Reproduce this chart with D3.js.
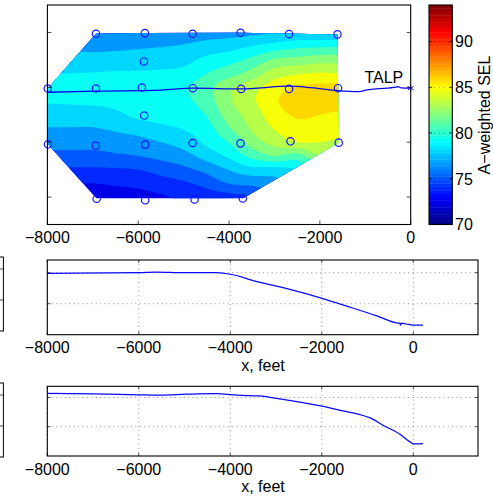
<!DOCTYPE html>
<html><head><meta charset="utf-8">
<script src="https://cdnjs.cloudflare.com/ajax/libs/d3/7.8.5/d3.min.js"></script>
<style>html,body{margin:0;padding:0;background:#fff}svg{display:block}text{font-family:"Liberation Sans",Arial,sans-serif;fill:#000}</style>
</head><body><svg id="c" width="493" height="497"></svg>
<script>
// ---- data ----
const xTicks=[-8000,-6000,-4000,-2000,0];
const mainYTicks=[1000,0,-1000,-2000];
const selTicks=[70,75,80,85,90];
const contourLevels=[72.5,73.86,75.22,76.58,77.94,79.3,80.66,82.02,83.38,84.74,86.1];
const gridX=[-8000,-7500,-7000,-6500,-6000,-5500,-5000,-4500,-4000,-3500,-3000,-2500,-2000,-1500];
const gridY=[1000,750,500,250,0,-250,-500,-750,-1000,-1250,-1500,-1750,-2000];
// position of the field between contour levels (level index), one list per gridX column
const levelCol0=[3.2,3.8,4.4,5,5.5,5.1,4.5,3.95,3.35,2.7,1.85,1,.3];
const levelCol1=[3.2,3.8,4.4,5,5.55,5.15,4.5,3.95,3.35,2.7,1.85,1,.3];
const levelCol2=[3.2,3.7,4.4,5.05,5.6,5.2,4.55,3.95,3.35,2.7,1.85,1,.3];
const levelCol3=[3.1,3.75,4.45,5.1,5.5,5.25,4.8,4.15,3.5,2.85,1.9,1.15,.4];
const levelCol4=[3.1,3.85,4.5,5.1,5.4,5.4,5.2,4.45,3.65,3,2,1.3,.6];
const levelCol5=[3.2,3.95,4.6,5.15,5.5,5.45,5.3,4.8,4,3.3,2.35,1.6,.9];
const levelCol6=[3.4,4.1,4.7,5.3,5.85,5.75,5.4,5.05,4.4,3.65,2.75,1.85,1.15];
const levelCol7=[3.6,4.4,5.25,6,6.65,6.5,6.05,5.6,5.2,4.4,3.3,2.35,1.5];
const levelCol8=[3.7,4.6,5.65,6.6,7.8,7.85,7.45,6.9,6.05,5.2,4.05,3.05,1.7];
const levelCol9=[3.8,5,6.25,7.4,8.6,8.8,8.45,8.1,7.45,6.3,4.65,3.25,2];
const levelCol10=[4.0,5.4,7.1,8.5,9.5,9.85,9.5,9.05,8.35,7,4.6,3.6,2.5];
const levelCol11=[4.2,5.75,7.35,8.9,10.1,10.55,10.15,9.6,9,6.6,5,4,3];
const levelCol12=[4.2,5.85,7.6,9.1,10.25,10.4,10,9.55,9,8,6,4.5,3];
const levelCol13=[4.1,5.9,7.6,9,10.25,10.3,9.85,9.35,8.8,8,6,4.5,3];
const levelColumns=[levelCol0,levelCol1,levelCol2,levelCol3,levelCol4,levelCol5,levelCol6,levelCol7,levelCol8,levelCol9,levelCol10,levelCol11,levelCol12,levelCol13];
const microphoneX=[-6931,-5853,-4803,-3747,-2678,-1613,-5875,-7993,-6931,-5919,-4797,-3734,-2678,-1600,-5868,-7987,-6937,-5846,-4803,-3747,-2647,-1585,-6915,-5846,-4759,-3697];
const microphoneY=[975,988,975,993,970,964,471,-22,-22,-4,-16,-29,-29,-16,-515,-1039,-1063,-1044,-1015,-1021,-984,-1008,-2030,-2056,-2043,-2025];
const trackX=[-7993,-6931,-5500,-4797,-3734,-2678,-2200,-1600,-1130,-990,-770,-320,-280,-210,0];
const trackY=[-90,-70,-50,-16,-29,20,-5,-60,-77,-53,-30,2,14,-12,-16];
const altX=[-7991,-6002,-5609,-5027,-4297,-4006,-3722,-3569,-2994,-1995,-1536,-808,-334,-290,-283,-253,-152,9,213];
const altY=[396,400,404,400,400,390,370,355,314,235,192,123,75,74,61,75,69,61,61];
const speedX=[-7991,-6994,-6002,-5536,-4953,-4297,-3934,-3569,-3357,-2994,-1995,-1536,-1136,-952,-662,-297,-78,9,140,213];
const speedY=[214,212,209,208,211,213,209,206,205,197,170,154,140,131,105,75,49,41,41,43];
const panel1YTicks=[200,400];
const panel2YTicks=[100,200];

const svg=d3.select("#c");
const blue="#1414ff";
const fmt=d=>String(d).replace("-","\u2212");
// MATLAB 'jet' with 64 discrete entries
function jet(t){
  const i=Math.min(63,Math.max(0,Math.floor(t*64)));
  const v=(i+0.5)/64*4;
  const c=x=>Math.round(255*Math.max(0,Math.min(1,Math.min(x+0.5,-x+2.5))));
  return `rgb(${c(v-2)},${c(v-1)},${c(v)})`;
}
const selScale=d3.scaleLinear().domain([70,94]).range([0,1]);

// ---- main contour panel ----
const mL=47.4,mR=410.7,mT=5,mB=224.5;
const x=d3.scaleLinear().domain([-8000,0]).range([mL,mR]);
const y=d3.scaleLinear().domain([-2500,1500]).range([mB,mT]);

const ups=6, nc=gridX.length, nr=gridY.length;
const cr=(a,b,c,d,t)=>0.5*(2*b+(c-a)*t+(2*a-5*b+4*c-d)*t*t+(-a+3*b-3*c+d)*t*t*t);
const at=(i,j)=>levelColumns[Math.max(0,Math.min(nc-1,i))][Math.max(0,Math.min(nr-1,j))];
const W=(nc-1)*ups+1,H=(nr-1)*ups+1,fine=new Array(W*H);
for(let jj=0;jj<H;jj++)for(let ii=0;ii<W;ii++){
  const i=Math.floor(ii/ups),j=Math.floor(jj/ups),tx=ii/ups-i,ty=jj/ups-j;
  const row=k=>cr(at(i-1,j+k),at(i,j+k),at(i+1,j+k),at(i+2,j+k),tx);
  fine[jj*W+ii]=cr(row(-1),row(0),row(1),row(2),ty);
}
const gx=d3.scaleLinear().domain([0,W-1]).range([gridX[0],gridX[nc-1]]);
const gy=d3.scaleLinear().domain([0,H-1]).range([gridY[0],gridY[nr-1]]);
const proj=d3.geoTransform({point(a,b){this.stream.point(x(gx(a-0.5)),y(gy(b-0.5)));}});
const path=d3.geoPath(proj);
const hull=d3.polygonHull(microphoneX.map((d,i)=>[x(d),y(microphoneY[i])]));
svg.append("clipPath").attr("id","hull").append("path").attr("d","M"+hull.join("L")+"Z");
const cs=d3.contours().size([W,H]).smooth(true).thresholds(contourLevels.map((_,i)=>i))(fine.map(v=>Math.max(0,v)));
svg.append("g").attr("clip-path","url(#hull)").selectAll("path").data(cs).join("path")
  .attr("d",path).attr("fill",(d,i)=>jet(selScale(contourLevels[i]))).attr("stroke","none");

// flight track and microphones
svg.append("path").attr("d",d3.line().x(d=>x(d[0])).y(d=>y(d[1])).curve(d3.curveMonotoneX)(trackX.map((d,i)=>[d,trackY[i]])))
  .attr("fill","none").attr("stroke","#0808e8").attr("stroke-width",1.3);
svg.append("g").selectAll("circle").data(microphoneX).join("circle")
  .attr("cx",d=>x(d)).attr("cy",(d,i)=>y(microphoneY[i])).attr("r",3.7)
  .attr("fill","none").attr("stroke",blue).attr("stroke-width",1.2);
svg.append("path").attr("transform",`translate(${x(0)},${y(trackY[trackY.length-1])})`)
  .attr("d",d3.symbol(d3.symbolAsterisk,30)()).attr("fill","none").attr("stroke",blue).attr("stroke-width",1);
svg.append("text").attr("x",x(-1020)).attr("y",y(75)).attr("font-size",16).text("TALP");

function frame(l,t,r,b,col){
  svg.append("rect").attr("x",l).attr("y",t).attr("width",r-l).attr("height",b-t)
   .attr("fill","none").attr("stroke",col||"#000").attr("stroke-width",1.1);
}
frame(mL,mT,mR,mB);
const tick=(x1,y1,x2,y2)=>svg.append("line").attr("x1",x1).attr("y1",y1).attr("x2",x2).attr("y2",y2).attr("stroke","#000").attr("stroke-width",.7);
xTicks.forEach(d=>{tick(x(d),mB,x(d),mB-4);
  svg.append("text").attr("x",x(d)).attr("y",243).attr("text-anchor","middle").attr("font-size",16).text(fmt(d));});
mainYTicks.forEach(d=>{tick(mL,y(d),mL+4,y(d));tick(mR,y(d),mR-4,y(d));});

// ---- colour bar ----
const cL=429,cR=452.3,cY=d3.scaleLinear().domain([70,94]).range([mB,mT]);
const idx=d3.range(64);
svg.append("g").selectAll("rect").data(idx).join("rect")
  .attr("x",cL).attr("width",cR-cL)
  .attr("y",d=>cY(70+(d+1)*24/64)).attr("height",(mB-mT)/64+.4)
  .attr("fill",d=>jet((d+0.5)/64));
frame(cL,mT,cR,mB);
selTicks.forEach(d=>{
  svg.append("line").attr("x1",cL).attr("x2",cR).attr("y1",cY(d)).attr("y2",cY(d)).attr("stroke","#000").attr("stroke-width",.6).attr("stroke-dasharray","1 4").attr("opacity",.6);
  tick(cL,cY(d),cL+3,cY(d));tick(cR,cY(d),cR-3,cY(d));
  svg.append("text").attr("x",455).attr("y",cY(d)+5.8).attr("font-size",16).text(d);
});
svg.append("text").attr("transform","translate(490,115) rotate(-90)").attr("text-anchor","middle").attr("font-size",16).text("A\u2212weighted SEL");

// ---- lower panels ----
function panel(t,b,top,yTicks,xs,ys,labY){
  const l=47.3,r=478;
  const px=d3.scaleLinear().domain([-8000,1415]).range([l,r]);
  const py=d3.scaleLinear().domain([0,top]).range([b,t]);
  const dots=(x1,y1,x2,y2)=>svg.append("line").attr("x1",x1).attr("y1",y1).attr("x2",x2).attr("y2",y2)
    .attr("stroke","#000").attr("stroke-width",.8).attr("stroke-dasharray","1 3.4").attr("opacity",.55);
  xTicks.forEach(d=>dots(px(d),t,px(d),b));
  yTicks.forEach(d=>dots(l,py(d),r,py(d)));
  svg.append("path").attr("d",d3.line().x(d=>px(d[0])).y(d=>py(d[1])).curve(d3.curveMonotoneX)(xs.map((d,i)=>[d,ys[i]])))
    .attr("fill","none").attr("stroke","#0808ff").attr("stroke-width",1.25);
  frame(l,t,r,b);
  xTicks.forEach(d=>{tick(px(d),b,px(d),b-3);tick(px(d),t,px(d),t+3);
    svg.append("text").attr("x",px(d)).attr("y",b+18.5).attr("text-anchor","middle").attr("font-size",16).text(fmt(d));});
  yTicks.forEach(d=>{tick(l,py(d),l+3,py(d));tick(r,py(d),r-3,py(d));});
  svg.append("text").attr("x",263).attr("y",labY).attr("text-anchor","middle").attr("font-size",16).text("x, feet");
}
panel(260,334.7,482,panel1YTicks,altX,altY,371);
panel(386.3,456,238,panel2YTicks,speedX,speedY,491.5);

// cropped edges of the neighbouring panels at the left border
[[257,331,[269,300]],[383,457,[395,426]]].forEach(([t,b,ts])=>{
  svg.append("rect").attr("x",-5).attr("y",t).attr("width",8.4).attr("height",b-t).attr("fill","none").attr("stroke","#000").attr("stroke-width",1);
  ts.forEach(v=>tick(0,v,3.4,v));
});
</script></body></html>
